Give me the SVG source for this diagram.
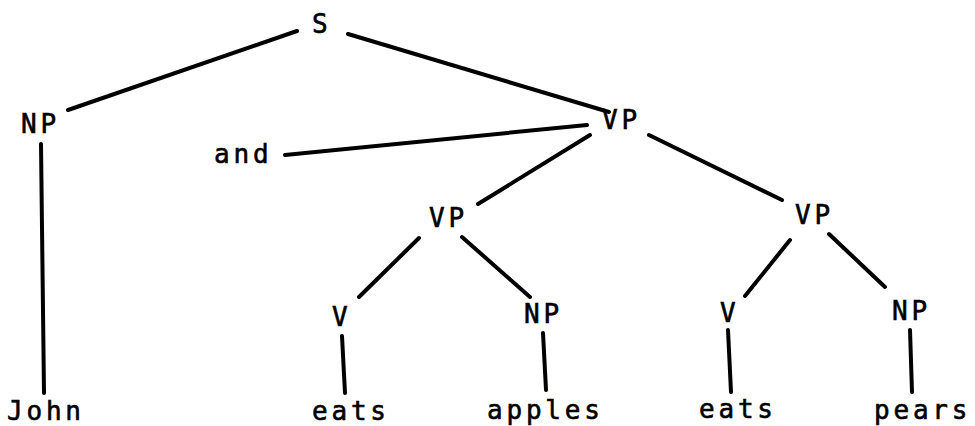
<svg xmlns="http://www.w3.org/2000/svg" width="975" height="426" viewBox="0 0 975 426">
<style>
text{font-family:"DejaVu Sans Mono","Liberation Mono",monospace;font-size:26px;letter-spacing:3.8px;fill:#000;stroke:#000;stroke-width:0.6}
.e line{stroke:#000;stroke-width:4;stroke-linecap:round}
</style>
<rect width="975" height="426" fill="#fff"/>
<g class="e" id="connectors">
<line x1="297" y1="31" x2="68" y2="110"/>
<line x1="348" y1="34" x2="609" y2="112"/>
<line x1="41" y1="144" x2="44" y2="393"/>
<line x1="285" y1="155" x2="587" y2="125"/>
<line x1="590" y1="135" x2="478" y2="204"/>
<line x1="649" y1="135" x2="782" y2="200"/>
<line x1="419" y1="238" x2="359" y2="297"/>
<line x1="462" y1="237" x2="530" y2="297"/>
<line x1="342" y1="336" x2="345" y2="393"/>
<line x1="543" y1="333" x2="546" y2="390"/>
<line x1="790" y1="240" x2="745" y2="296"/>
<line x1="829" y1="234" x2="885" y2="287"/>
<line x1="728" y1="330" x2="731" y2="392"/>
<line x1="910" y1="330" x2="912" y2="392"/>
</g>
<g id="n-S"><text x="312" y="33">S</text></g>
<g id="n-NP1"><text x="21" y="133">NP</text></g>
<g id="n-VP1"><text x="602" y="129">VP</text></g>
<g id="n-and"><text x="214" y="163">and</text></g>
<g id="n-VP2"><text x="429" y="227">VP</text></g>
<g id="n-VP3"><text x="795" y="224">VP</text></g>
<g id="n-V1"><text x="332" y="326">V</text></g>
<g id="n-NP2"><text x="524" y="323">NP</text></g>
<g id="n-V2"><text x="720" y="322">V</text></g>
<g id="n-NP3"><text x="892" y="320">NP</text></g>
<g id="n-John"><text x="7" y="420">John</text></g>
<g id="n-eats1"><text x="312" y="420">eats</text></g>
<g id="n-apples"><text x="487" y="419">apples</text></g>
<g id="n-eats2"><text x="699" y="418">eats</text></g>
<g id="n-pears"><text x="874" y="419">pears</text></g>
</svg>
